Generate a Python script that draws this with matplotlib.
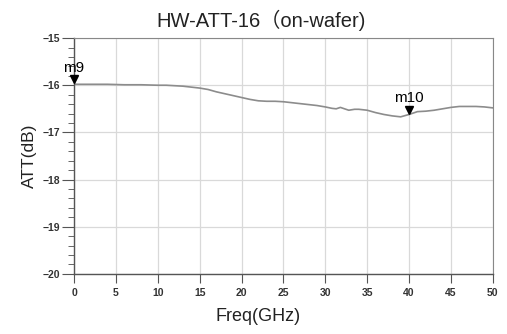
import numpy as np
import matplotlib.pyplot as plt
from matplotlib.ticker import MultipleLocator
from matplotlib.transforms import offset_copy

plt.rcParams['font.family'] = ['Liberation Sans', 'Noto Sans CJK SC', 'DejaVu Sans']

# 讀圖得到的數據
freq = [0, 2, 4, 6, 8, 10, 11, 12, 13, 14, 15, 16, 17, 18, 19, 20, 21, 22, 23, 24,
        25, 26, 27, 28, 29, 30, 30.8, 31.3, 31.8, 32.3, 32.8, 33.5, 34, 35, 36, 37,
        38, 39, 40, 41, 42, 43, 44, 45, 46, 47, 48, 49, 50]
att = [-15.98, -15.98, -15.98, -15.99, -15.99, -16.00, -16.00, -16.01, -16.02, -16.04,
       -16.06, -16.09, -16.14, -16.18, -16.22, -16.26, -16.30, -16.33, -16.34, -16.34,
       -16.35, -16.37, -16.39, -16.41, -16.43, -16.46, -16.49, -16.50, -16.47, -16.50,
       -16.53, -16.51, -16.51, -16.53, -16.58, -16.62, -16.65, -16.67, -16.62, -16.56,
       -16.55, -16.53, -16.50, -16.47, -16.45, -16.45, -16.45, -16.46, -16.48]

markers = {'m9': (0, -15.98), 'm10': (40, -16.62)}

fig = plt.figure(figsize=(5.07, 3.34), dpi=100)
ax = fig.add_axes([0.146, 0.180, 0.826, 0.706])

ax.plot(freq, att, color='#8c8c8c', lw=1.2)
# 三角形的尖端放在曲線上
mk_trans = offset_copy(ax.transData, fig=fig, x=0, y=3.5, units='points')
for name, (fx, fy) in markers.items():
    ax.plot(fx, fy, marker='v', color='black', ms=6, clip_on=False, zorder=5,
            transform=mk_trans)
    ax.annotate(name, (fx, fy), xytext=(0, 7), textcoords='offset points',
                ha='center', va='bottom', fontsize=11)

ax.set_xlim(0, 50)
ax.set_ylim(-20, -15)
ax.xaxis.set_major_locator(MultipleLocator(5))
ax.yaxis.set_major_locator(MultipleLocator(1))
ax.yaxis.set_minor_locator(MultipleLocator(0.2))
ax.grid(True, which='major', color='#d9d9d9', lw=0.9)
ax.set_axisbelow(True)

ax.tick_params(axis='x', which='major', labelsize=7.5, length=6.5, width=0.8,
               color='#555555', pad=4)
ax.tick_params(axis='y', which='major', labelsize=7.5, length=9, width=0.8,
               color='#555555', pad=1)
ax.tick_params(axis='y', which='minor', length=4.5, width=0.7, color='#666666')
plt.setp(ax.get_xticklabels() + ax.get_yticklabels(), fontweight='bold', color='#333333')
for s in ['left', 'bottom']:
    ax.spines[s].set_color('#555555')
    ax.spines[s].set_linewidth(1.0)
for s in ['top', 'right']:
    ax.spines[s].set_color('#888888')
    ax.spines[s].set_linewidth(0.8)

# 參考圖的標題和X軸標題略偏左
ax.set_title('HW-ATT-16（on-wafer)', fontsize=14.5, pad=8, color='#222222', x=0.446)
ax.set_xlabel('Freq(GHz)', fontsize=13, labelpad=2, color='#222222')
ax.xaxis.set_label_coords(0.44, -0.145)
ax.set_ylabel('ATT(dB)', fontsize=12.5, labelpad=4, color='#222222')

fig.savefig('out.png', dpi=100)
